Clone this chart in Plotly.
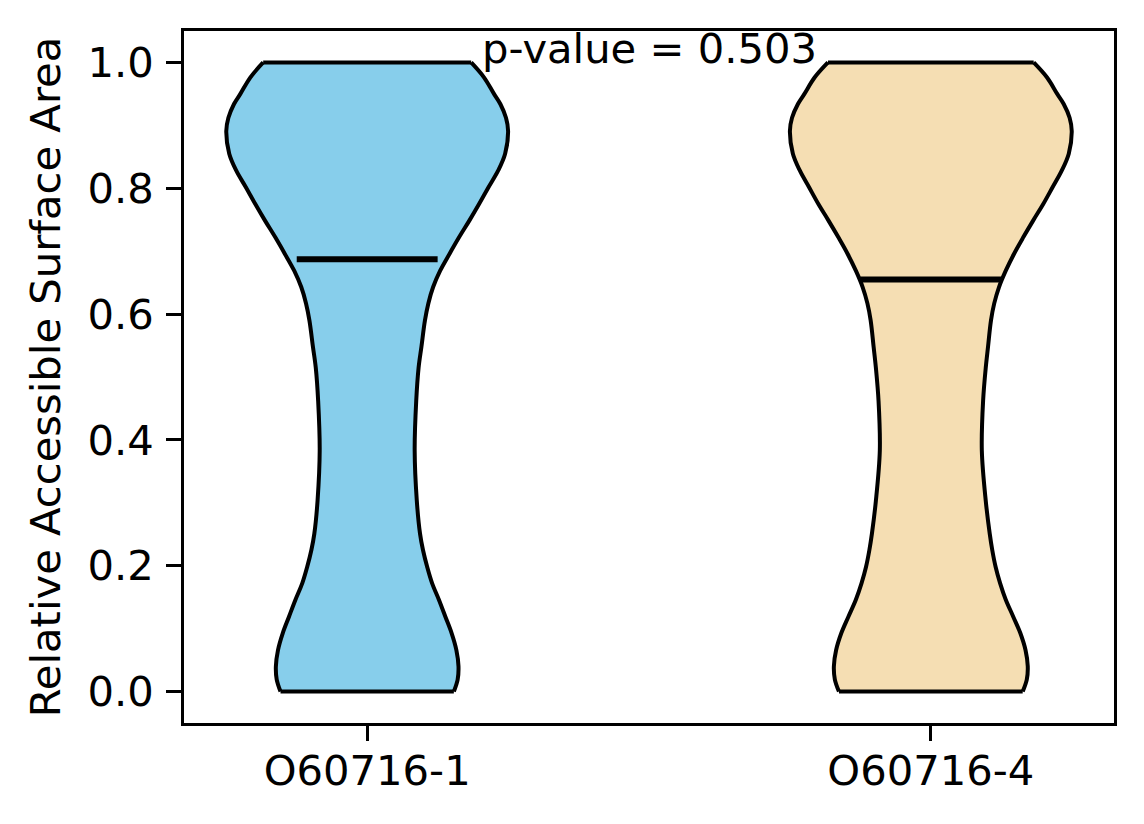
import plotly.graph_objects as go

# ---- data ----
categories = ["O60716-1", "O60716-4"]
positions = [1, 2]
colors = ["#87CEEB", "#F5DEB3"]

# KDE profile: y level and density normalised to the violin's maximum
v1_y = [0.000, 0.019, 0.040, 0.066, 0.093, 0.119, 0.146, 0.172, 0.198, 0.225,
        0.251, 0.304, 0.383, 0.462, 0.515, 0.548, 0.590, 0.617, 0.643, 0.669,
        0.696, 0.722, 0.749, 0.775, 0.802, 0.828, 0.855, 0.891, 0.912, 0.934,
        0.950, 0.976, 1.000]
v1_d = [0.615, 0.642, 0.648, 0.633, 0.599, 0.555, 0.509, 0.461, 0.426, 0.396,
        0.375, 0.352, 0.337, 0.348, 0.365, 0.385, 0.410, 0.434, 0.468, 0.518,
        0.585, 0.652, 0.726, 0.794, 0.862, 0.929, 0.979, 1.000, 0.985, 0.945,
        0.900, 0.830, 0.738]

v2_y = [0.000, 0.019, 0.040, 0.066, 0.093, 0.119, 0.146, 0.172, 0.198, 0.225,
        0.251, 0.303, 0.383, 0.462, 0.515, 0.548, 0.590, 0.617, 0.643, 0.669,
        0.696, 0.722, 0.749, 0.775, 0.802, 0.828, 0.855, 0.891, 0.912, 0.934,
        0.950, 0.976, 1.000]
v2_d = [0.652, 0.681, 0.688, 0.672, 0.635, 0.585, 0.532, 0.492, 0.460, 0.436,
        0.418, 0.390, 0.362, 0.371, 0.390, 0.406, 0.427, 0.450, 0.484, 0.532,
        0.591, 0.656, 0.727, 0.798, 0.865, 0.929, 0.979, 1.000, 0.985, 0.943,
        0.897, 0.825, 0.730]

medians = [0.687, 0.655]
p_value = 0.503

y_ticks = [0.0, 0.2, 0.4, 0.6, 0.8, 1.0]

# ---- styling ----
HALF_WIDTH = 0.25      # matplotlib default widths=0.5
MED_HALF = 0.125       # median bar spans a quarter of the width each side
FONT = "DejaVu Sans"
FS = 41.7
EDGE_W = 4
MED_W = 6

fig = go.Figure()

profiles = [(v1_y, v1_d), (v2_y, v2_d)]
for pos, (ys, ds), col in zip(positions, profiles, colors):
    left = [pos - d * HALF_WIDTH for d in ds]
    right = [pos + d * HALF_WIDTH for d in ds]
    fig.add_trace(go.Scatter(x=left, y=ys, mode="lines",
                             line=dict(color="black", width=EDGE_W, shape="spline", smoothing=1),
                             showlegend=False, hoverinfo="skip"))
    fig.add_trace(go.Scatter(x=right, y=ys, mode="lines", fill="tonextx", fillcolor=col,
                             line=dict(color="black", width=EDGE_W, shape="spline", smoothing=1),
                             showlegend=False, hoverinfo="skip"))
    # flat ends at data min and max
    for idx in (0, -1):
        fig.add_trace(go.Scatter(x=[left[idx], right[idx]], y=[ys[idx], ys[idx]], mode="lines",
                                 line=dict(color="black", width=EDGE_W),
                                 showlegend=False, hoverinfo="skip"))

for pos, m in zip(positions, medians):
    fig.add_trace(go.Scatter(x=[pos - MED_HALF, pos + MED_HALF], y=[m, m], mode="lines",
                             line=dict(color="black", width=MED_W),
                             showlegend=False, hoverinfo="skip"))

fig.add_annotation(x=1.5, y=0.98, xref="x", yref="y", text=f"p-value = {p_value:.3f}",
                   showarrow=False, xanchor="center", yanchor="bottom",
                   font=dict(family=FONT, size=FS, color="black"))

# the page body has an 8px margin; compensate so the plot sits where the reference does
fig.update_layout(
    width=1136, height=816,
    margin=dict(l=176, r=30, t=23, b=101),
    plot_bgcolor="white", paper_bgcolor="white",
    font=dict(family=FONT, size=FS, color="black"),
    showlegend=False,
)
fig.update_xaxes(range=[0.675, 2.325], tickmode="array", tickvals=positions, ticktext=categories,
                 showline=True, linecolor="black", linewidth=3.3, mirror=True,
                 ticks="outside", ticklen=14.6, tickwidth=3.3, tickcolor="black",
                 showgrid=False, zeroline=False, ticklabelstandoff=-6,
                 tickfont=dict(family=FONT, size=FS, color="black"))
fig.update_yaxes(range=[-0.05, 1.05], tickmode="array", tickvals=y_ticks,
                 ticktext=[f"{v:.1f}" for v in y_ticks],
                 showline=True, linecolor="black", linewidth=3.3, mirror=True,
                 ticks="outside", ticklen=14.6, tickwidth=3.3, tickcolor="black",
                 showgrid=False, zeroline=False, ticklabelstandoff=4,
                 tickfont=dict(family=FONT, size=FS, color="black"),
                 title=dict(text="Relative Accessible Surface Area", standoff=15,
                            font=dict(family=FONT, size=FS, color="black")))

fig.write_html("out.html")
